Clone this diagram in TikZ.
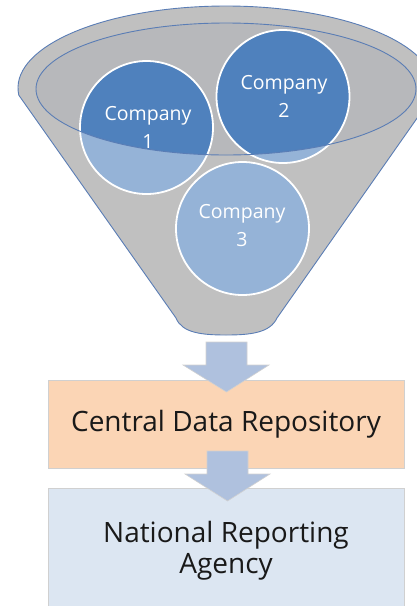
\documentclass[tikz,border=0pt]{standalone}
\usepackage{fontspec}
\setmainfont{Open Sans}
\definecolor{fgray}{HTML}{C0C0C0}
\definecolor{fgrayin}{HTML}{B7B8BB}
\definecolor{fline}{HTML}{5A7DB5}
\definecolor{cdark}{HTML}{4F81BD}
\definecolor{clight}{HTML}{95B3D7}
\definecolor{arrowfill}{HTML}{AFC1DE}
\definecolor{boxorange}{HTML}{FBD5B5}
\definecolor{boxblue}{HTML}{DCE6F2}
\definecolor{boxline}{HTML}{D0D0D0}
\tikzset{
  complabel/.style={text=white, font=\fontsize{19.5}{28}\selectfont, align=center, inner sep=0pt},
  compring/.style={draw=white, line width=1.8pt},
  boxstyle/.style={draw=boxline, line width=0.6pt},
  boxtext/.style={text=black!90, font=\fontsize{28}{31}\selectfont, align=center, inner sep=0pt},
  blockarrow/.style={fill=arrowfill, draw=white!82!black, line width=0.6pt, line join=miter},
}
\begin{document}
\begin{tikzpicture}[x=1pt,y=-1pt]
\useasboundingbox (0,0) rectangle (416,606);
% funnel body
\coordinate (fl) at ({226-208*cos(5)},{88+82*sin(5)});
\coordinate (fr) at ({226+208*cos(5)},{88+82*sin(5)});
\fill[fgray] (fl) arc[start angle=175,end angle=365,x radius=208,y radius=82]
  -- (277,318) .. controls (270,333) and (250,335) .. (226,335)
  .. controls (202,335) and (182,333) .. (176,318) -- cycle;
\draw[fline, line width=0.9pt] (fl) arc[start angle=175,end angle=365,x radius=208,y radius=82];
\draw[fline, line width=0.9pt] (fl) -- (176,318) .. controls (182,333) and (202,335) .. (226,335)
  .. controls (250,335) and (270,333) .. (277,318) -- (fr);
\fill[fgrayin] (226,89) ellipse[x radius=190,y radius=66];
% circles
\coordinate (p1) at (146.5,127.5);
\coordinate (p2) at (283,96.5);
\coordinate (p3) at (242.5,228.5);
\foreach \p in {p1,p2,p3}{
  \fill[cdark] (\p) circle[radius=66.5];
  \begin{scope}
    \clip (\p) circle[radius=66.5];
    \fill[clight, even odd rule] (-50,-50) rectangle (500,700) (226,89) ellipse[x radius=190,y radius=66];
  \end{scope}
  \draw[compring] (\p) circle[radius=66.5];
}
\draw[fline, line width=0.9pt] (226,89) ellipse[x radius=190,y radius=66];
\node[complabel] (c1) at (148,127) {Company\\1};
\node[complabel] (c2) at (284,96) {Company\\2};
\node[complabel] (c3) at (242,226) {Company\\3};
% boxes
\node[boxstyle, fill=boxorange, minimum width=356pt, minimum height=88pt, inner sep=0pt] (cdr) at (226,424) {};
\node[boxtext] (cdrt) at (cdr.center) {Central Data Repository};
\node[boxstyle, fill=boxblue, minimum width=356pt, minimum height=130pt, inner sep=0pt] (nra) at (226,553) {};
\node[boxtext] (nrat) at (226,551) {National Reporting\\Agency};
% block arrows
\coordinate (a1) at (226.5,342);
\draw[blockarrow] (a1) ++(-20.5,0) -- ++(41,0) -- ++(0,23) -- ++(22,0) -- (226.5,392) -- (183,365) -- (206,365) -- cycle;
\coordinate (a2) at (227.5,451);
\draw[blockarrow] (a2) ++(-20.5,0) -- ++(41,0) -- ++(0,23) -- ++(22,0) -- (227.5,501) -- (185,474) -- (207,474) -- cycle;
\end{tikzpicture}
\end{document}
